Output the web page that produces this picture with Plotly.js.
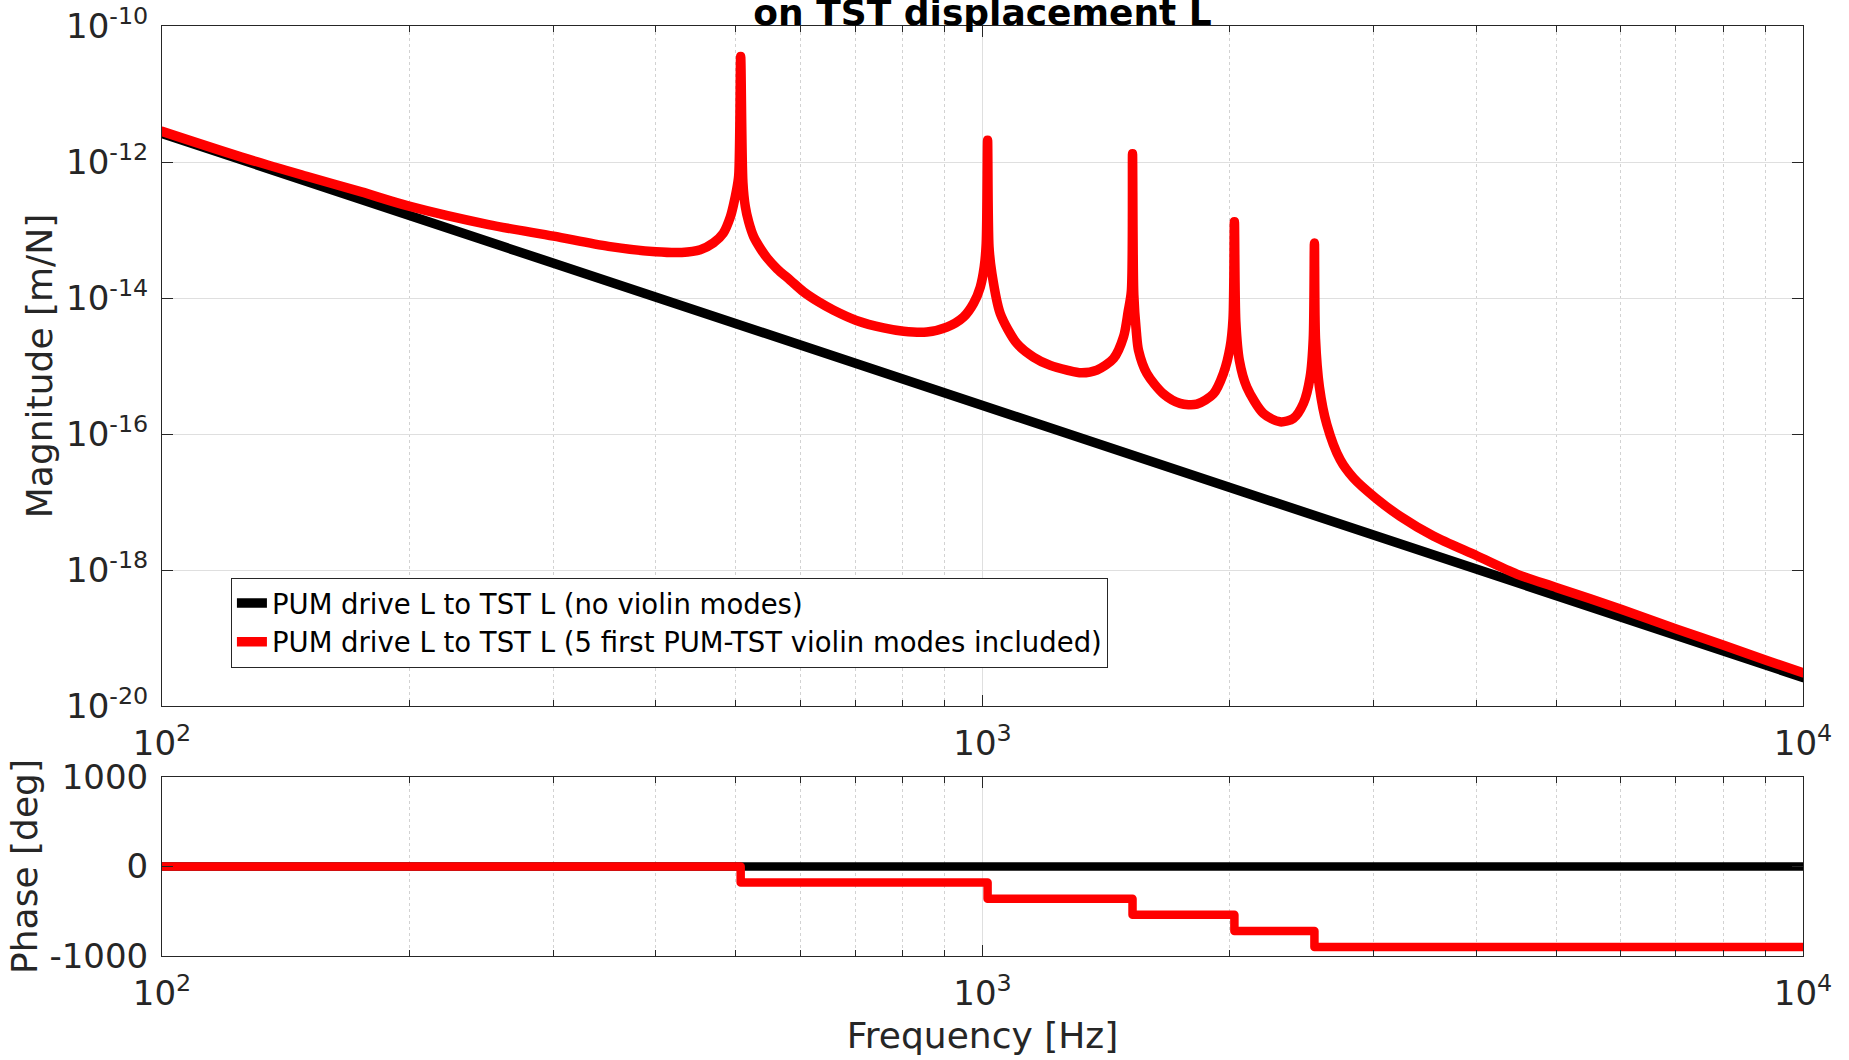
<!DOCTYPE html>
<html>
<head>
<meta charset="utf-8">
<script src="https://cdn.plot.ly/plotly-3.0.1.min.js"></script>
<style>html,body{margin:0;padding:0;background:#fff;}#chart{width:1849px;height:1060px;}
#chart .scatterlayer path.js-line{stroke-linecap:round;stroke-linejoin:round;}</style>
</head>
<body>
<div id="chart"></div>
<script>
// ---- data ----
const freqBlack = [100, 1000, 10000];
const magBlack = [2.63e-12, 2.63e-16, 2.63e-20];

const freqRed = [100, 125, 150, 175, 200, 250, 300, 350, 400, 430, 453, 470, 483, 493, 497.4, 501.2, 504.5,
  507.3, 510.5, 514, 518.8, 526.2, 536.1, 546.3, 561.8, 583.2, 605.3, 630, 658.5, 701.9, 757.6, 801.3, 855.6,
  904.9, 948.2, 975.2, 993.8, 1004.9, 1010.5, 1014.4, 1018.5, 1026.8, 1051.1, 1101.6, 1154.2, 1209.5, 1267.5,
  1320, 1378.6, 1444.5, 1485.6, 1505, 1518.5, 1523.5, 1529, 1540, 1549.4, 1586.2, 1661.6, 1741.0, 1824.8,
  1911.7, 1966.1, 2003.6, 2020, 2027.7, 2036, 2056.4, 2099.5, 2200.0, 2305.3, 2393.0, 2461.2, 2508.0, 2530,
  2538.3, 2546, 2574.2, 2628.1, 2729, 2833, 3012, 3228, 3544, 4003, 4479, 5012, 6013, 7017, 8020, 9033, 10000];
const magRed = [2.82e-12, 1.18e-12, 6.17e-13, 3.63e-13, 2.24e-13, 1.20e-13, 8.13e-14, 5.75e-14, 4.79e-14, 4.68e-14,
  5.13e-14, 6.46e-14, 8.91e-14, 1.58e-13, 2.40e-13, 3.72e-13, 6.31e-13,
  3.55e-11, 5.01e-13, 2.19e-13, 1.32e-13, 7.94e-14, 5.37e-14, 3.89e-14, 2.69e-14, 1.82e-14, 1.23e-14, 8.91e-15,
  6.61e-15, 4.68e-15, 3.63e-15, 3.24e-15, 3.16e-15,
  3.72e-15, 5.25e-15, 8.32e-15, 1.45e-14, 2.88e-14, 6.31e-14, 2.09e-12, 5.62e-14, 2.29e-14, 5.89e-15, 2.14e-15,
  1.35e-15, 1.02e-15, 8.71e-16,
  7.94e-16, 8.71e-16, 1.29e-15, 2.69e-15, 6.31e-15, 1.26e-14, 1.32e-12, 1.12e-14, 3.16e-15, 1.70e-15, 7.76e-16,
  3.89e-16, 2.82e-16, 2.75e-16,
  3.89e-16, 7.76e-16, 1.91e-15, 5.01e-15, 1.32e-13, 4.47e-15, 1.20e-15, 4.90e-16, 2.00e-16, 1.51e-16, 1.70e-16,
  2.82e-16, 6.92e-16, 2.51e-15,
  6.46e-14, 2.51e-15, 4.90e-16, 1.38e-16, 4.17e-17, 2.24e-17, 1.15e-17, 6.17e-18, 3.16e-18, 1.62e-18, 8.71e-19,
  5.50e-19, 2.63e-19, 1.35e-19, 7.76e-20, 4.68e-20, 3.09e-20];

const freqPhaseBlack = [100, 10000];
const phaseBlack = [0, 0];
const freqPhaseRed = [100, 507.3, 1014.4, 1523.5, 2027.7, 2538.3, 10000];
const phaseRed = [0, -180, -360, -540, -720, -900, -900];

const seriesNames = ['PUM drive L to TST L (no violin modes)',
                     'PUM drive L to TST L (5 first PUM-TST violin modes included)'];
const titleText = 'on TST displacement L';

const xTickVals = [100, 1000, 10000];
const xTickText = ['10<sup>2</sup>', '10<sup>3</sup>', '10<sup>4</sup>'];
const xMinorVals = [200, 300, 400, 500, 600, 700, 800, 900, 2000, 3000, 4000, 5000, 6000, 7000, 8000, 9000];
const yTickVals = [1e-20, 1e-18, 1e-16, 1e-14, 1e-12, 1e-10];
const yTickText = ['10<sup>-20</sup>', '10<sup>-18</sup>', '10<sup>-16</sup>', '10<sup>-14</sup>', '10<sup>-12</sup>', '10<sup>-10</sup>'];
const phaseTickVals = [-1000, 0, 1000];
const phaseTickText = ['-1000', '0', '1000'];

// ---- styling ----
const FONT = 'DejaVu Sans, Liberation Sans, sans-serif';
const AX = '#262626';
const LW = 9.5;

const traces = [
  {x: freqBlack, y: magBlack, xaxis: 'x', yaxis: 'y', mode: 'lines', name: seriesNames[0],
   line: {color: '#000000', width: LW}},
  {x: freqRed, y: magRed, xaxis: 'x', yaxis: 'y', mode: 'lines', name: seriesNames[1],
   line: {color: '#ff0000', width: LW, shape: 'spline', smoothing: 0.8}},
  {x: freqPhaseBlack, y: phaseBlack, xaxis: 'x2', yaxis: 'y2', mode: 'lines', showlegend: false,
   name: seriesNames[0], line: {color: '#000000', width: 8.5}},
  {x: freqPhaseRed, y: phaseRed, xaxis: 'x2', yaxis: 'y2', mode: 'lines', showlegend: false,
   name: seriesNames[1], line: {color: '#ff0000', width: 8.5, shape: 'hv'}}
];

function xAxisBase(anchor) {
  return {
    type: 'log', range: [2, 4], anchor: anchor,
    tickmode: 'array', tickvals: xTickVals, ticktext: xTickText,
    tickfont: {family: FONT, size: 34, color: AX},
    ticks: 'inside', ticklen: 11, tickwidth: 1, tickcolor: AX,
    showline: true, linecolor: AX, linewidth: 1, mirror: 'allticks',
    showgrid: true, gridcolor: '#dfdfdf', gridwidth: 1,
    zeroline: false,
    minor: {tickmode: 'array', tickvals: xMinorVals, ticks: 'inside', ticklen: 6, tickcolor: AX,
            showgrid: true, gridcolor: '#d2d2d2', griddash: 'dot', gridwidth: 1},
    ticklabelstandoff: 7
  };
}

const xaxis = xAxisBase('y');
const xaxis2 = xAxisBase('y2');
xaxis2.title = {text: 'Frequency [Hz]', font: {family: FONT, size: 36, color: AX}, standoff: 11};

const layout = {
  width: 1849, height: 1060,
  margin: {l: 162, r: 46, t: 26, b: 104, pad: 0},
  paper_bgcolor: '#ffffff', plot_bgcolor: '#ffffff',
  font: {family: FONT, color: AX},
  title: {text: '<b>' + titleText + '</b>', font: {family: FONT, size: 36, color: '#000000'},
          x: 0.5, xref: 'paper', xanchor: 'center', y: 0.9885, yref: 'container', yanchor: 'middle'},
  showlegend: true,
  legend: {x: 0.042, y: 0.4069, xanchor: 'left', yanchor: 'top', bgcolor: '#ffffff',
           bordercolor: AX, borderwidth: 1, font: {family: FONT, size: 27.5, color: '#000000'},
           itemwidth: 30, tracegroupgap: 0},
  xaxis: xaxis,
  xaxis2: xaxis2,
  yaxis: {
    type: 'log', range: [-20, -10], domain: [0.26882, 1], anchor: 'x',
    tickmode: 'array', tickvals: yTickVals, ticktext: yTickText,
    tickfont: {family: FONT, size: 34, color: AX},
    ticks: 'inside', ticklen: 11, tickwidth: 1, tickcolor: AX,
    showline: true, linecolor: AX, linewidth: 1, mirror: 'allticks',
    showgrid: true, gridcolor: '#dfdfdf', gridwidth: 1, zeroline: false,
    title: {text: 'Magnitude [m/N]', font: {family: FONT, size: 36, color: AX}, standoff: 2},
    ticklabelstandoff: 6
  },
  yaxis2: {
    range: [-1000, 1000], domain: [0, 0.19247], anchor: 'x2',
    tickmode: 'array', tickvals: phaseTickVals, ticktext: phaseTickText,
    tickfont: {family: FONT, size: 34, color: AX},
    ticks: 'inside', ticklen: 11, tickwidth: 1, tickcolor: AX,
    showline: true, linecolor: AX, linewidth: 1, mirror: 'allticks',
    showgrid: true, gridcolor: '#dfdfdf', gridwidth: 1, zeroline: false,
    title: {text: 'Phase [deg]', font: {family: FONT, size: 36, color: AX}, standoff: 0},
    ticklabelstandoff: 6
  }
};

Plotly.newPlot('chart', traces, layout, {staticPlot: true, displayModeBar: false});
</script>
</body>
</html>
